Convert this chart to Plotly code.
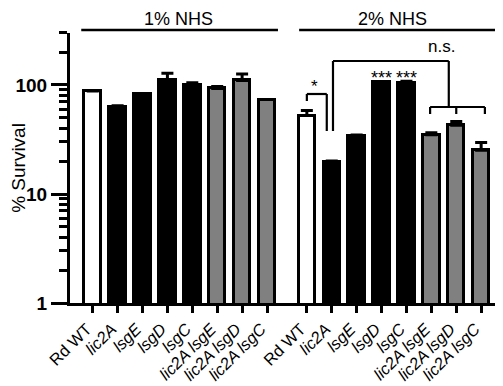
import plotly.graph_objects as go

# ---- data ----
strains = ["Rd WT", "lic2A", "lsgE", "lsgD", "lsgC", "lic2A lsgE", "lic2A lsgD", "lic2A lsgC"]
nhs1_survival = [88, 63, 82, 112, 99, 93, 110, 73.5]
nhs1_error = [0, 1.5, 0, 16, 6, 4, 16, 0]
nhs2_survival = [52.4, 19.7, 34.2, 106, 105, 35, 42.8, 25.2]
nhs2_error = [6, 0.4, 0.5, 1, 3, 1.5, 3.5, 4.5]
bar_kind = ["wt", "single", "single", "single", "single", "double", "double", "double"]
y_major = [1, 10, 100]
y_minor = [2, 3, 4, 5, 6, 7, 8, 9, 20, 30, 40, 50, 60, 70, 80, 90, 200, 300]

FONT = "Liberation Sans, Arial, sans-serif"
fill = {"wt": "white", "single": "black", "double": "#808080"}
GAP = 8.6
xs = list(range(len(strains))) + [GAP + i for i in range(len(strains))]
ys = nhs1_survival + nhs2_survival
errs = nhs1_error + nhs2_error
colors = [fill[k] for k in bar_kind] * 2


def lab(s):
    if s == "Rd WT":
        return s
    return "<i>" + s + "</i>"


ticktext = [lab(s) for s in strains] * 2

fig = go.Figure()
fig.add_trace(go.Bar(
    x=xs, y=ys, width=0.66,
    marker=dict(color=colors, line=dict(color="black", width=3)),
    error_y=dict(type="data", symmetric=False, array=errs,
                 arrayminus=[0] * len(errs), color="black", thickness=3, width=6),
    showlegend=False,
))

# page body has an 8px default margin, so the figure is 8px smaller
fig.update_layout(
    width=495, height=378,
    margin=dict(l=62, r=3, t=25, b=83, autoexpand=False),
    plot_bgcolor="white", paper_bgcolor="white",
    font=dict(family=FONT, color="black"),
    bargap=0,
)
fig.update_xaxes(
    range=[-0.912, 16.357], tickmode="array", tickvals=xs, ticktext=ticktext,
    tickangle=-45, tickfont=dict(size=16.5, family=FONT), automargin=False,
    ticklabelshift=-6,
    showline=True, linecolor="black", linewidth=3,
    ticks="outside", ticklen=7, tickwidth=3, tickcolor="black",
    showgrid=False, zeroline=False,
)
fig.update_yaxes(
    type="log", range=[0, 2.477], tickmode="array", tickvals=y_major,
    ticktext=["<b>%d</b>" % v for v in y_major], automargin=False,
    tickfont=dict(size=19, family=FONT),
    showline=True, linecolor="black", linewidth=3,
    ticks="outside", ticklen=16, tickwidth=3, tickcolor="black",
    minor=dict(tickmode="array", tickvals=y_minor, ticks="outside", ticklen=8,
               tickwidth=2.5, tickcolor="black", showgrid=False),
    showgrid=False, zeroline=False,
    title=dict(text="% Survival", font=dict(size=19, family=FONT), standoff=4),
)


def py(p):
    # window pixel row -> paper y (plot area spans rows 33..303)
    return (303 - p) / 270.0


def line(x0, y0, x1, y1, w=2.2):
    fig.add_shape(type="line", xref="x", yref="paper", x0=x0, x1=x1, y0=py(y0), y1=py(y1),
                  line=dict(color="black", width=w))


def text(x, y, s, size=17):
    fig.add_annotation(xref="x", yref="paper", x=x, y=py(y), text=s, showarrow=False,
                       xanchor="center", yanchor="middle",
                       font=dict(size=size, family=FONT, color="black"))


# group headers
line(-0.46, 30, 7.44, 30, 2.6)
line(8.29, 30, 16.16, 30, 2.6)
text(3.45, 19, "1% NHS", 18)
text(GAP + 3.45, 19, "2% NHS", 18)

# small bracket Rd WT vs lic2A
line(GAP, 94, GAP + 0.8, 94)
line(GAP, 94, GAP, 101)
line(GAP + 0.8, 94, GAP + 0.8, 131)
text(GAP + 0.3, 87, "*")

# big bracket lic2A vs double mutants
line(GAP + 1.05, 61, GAP + 5.7, 61)
line(GAP + 1.05, 61, GAP + 1.05, 131)
line(GAP + 5.7, 61, GAP + 5.7, 107)
line(GAP + 4.95, 107, GAP + 7.15, 107)
for dx in (4.95, 6.0, 7.15):
    line(GAP + dx, 107, GAP + dx, 114)
text(GAP + 5.4, 47, "n.s.")

# *** over lsgD, lsgC
text(GAP + 3, 78, "***", 18)
text(GAP + 4, 78, "***", 18)

fig.write_html("out.html", config={"displayModeBar": False})
